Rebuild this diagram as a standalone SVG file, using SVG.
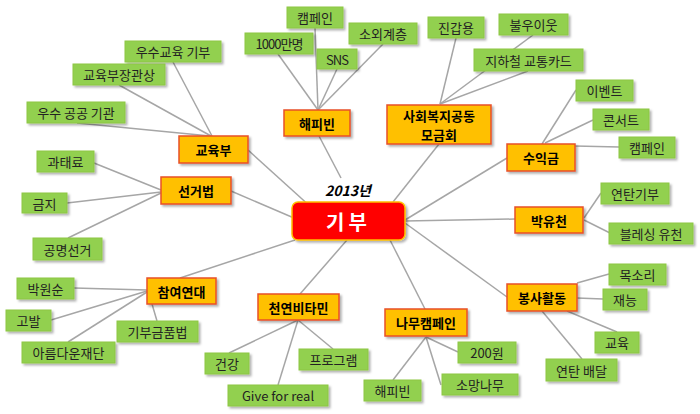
<svg xmlns="http://www.w3.org/2000/svg" width="700" height="414" viewBox="0 0 700 414">
<defs>
<filter id="sh" x="-20%" y="-20%" width="150%" height="160%">
<feDropShadow dx="2" dy="2" stdDeviation="1" flood-color="#000" flood-opacity="0.3"/>
</filter>
</defs>
<style>
text{font-family:"Noto Sans CJK KR","Liberation Sans",sans-serif;text-anchor:middle;dominant-baseline:central}
.leaf rect{fill:#92D050;stroke:#8DC645;stroke-width:1;filter:url(#sh)}
.leaf text{font-size:13px;fill:#222}
.cat rect{fill:#FFC000;stroke:#E8502A;stroke-width:1.5;filter:url(#sh)}
.cat text{font-size:13px;font-weight:bold;fill:#000}
.lines line{stroke:#A6A6A6;stroke-width:1.5}
</style>
<rect width="700" height="414" fill="#fff"/>
<g class="lines" id="connectors">
<line x1="248" y1="150" x2="312" y2="208"/>
<line x1="231" y1="191" x2="294" y2="218"/>
<line x1="319" y1="136" x2="341" y2="178"/>
<line x1="439" y1="144" x2="393" y2="202"/>
<line x1="507" y1="158" x2="405" y2="220"/>
<line x1="405" y1="221" x2="515" y2="219"/>
<line x1="405" y1="223" x2="507" y2="297"/>
<line x1="390" y1="240" x2="425" y2="309"/>
<line x1="347" y1="240" x2="300" y2="294"/>
<line x1="295" y1="240" x2="180" y2="278"/>
<line x1="173" y1="62" x2="212" y2="136"/>
<line x1="119" y1="85" x2="211" y2="136"/>
<line x1="77" y1="123" x2="210" y2="136"/>
<line x1="315" y1="28" x2="318" y2="110"/>
<line x1="278" y1="54" x2="318" y2="110"/>
<line x1="337" y1="69" x2="318" y2="110"/>
<line x1="383" y1="44" x2="318" y2="110"/>
<line x1="456" y1="38" x2="440" y2="104"/>
<line x1="533" y1="35" x2="440" y2="104"/>
<line x1="528" y1="71" x2="440" y2="104"/>
<line x1="576" y1="90" x2="542" y2="144"/>
<line x1="593" y1="120" x2="545" y2="143"/>
<line x1="619" y1="147" x2="575" y2="146"/>
<line x1="601" y1="193" x2="584" y2="218"/>
<line x1="610" y1="233" x2="584" y2="220"/>
<line x1="609" y1="274" x2="577" y2="283"/>
<line x1="603" y1="299" x2="577" y2="298"/>
<line x1="617" y1="332" x2="567" y2="311"/>
<line x1="582" y1="359" x2="542" y2="311"/>
<line x1="458" y1="352" x2="426" y2="337"/>
<line x1="441" y1="385" x2="426" y2="337"/>
<line x1="393" y1="380" x2="426" y2="337"/>
<line x1="229" y1="353" x2="298" y2="320"/>
<line x1="278" y1="385" x2="298" y2="320"/>
<line x1="333" y1="349" x2="298" y2="320"/>
<line x1="74" y1="288" x2="147" y2="290"/>
<line x1="51" y1="320" x2="147" y2="291"/>
<line x1="68" y1="342" x2="147" y2="292"/>
<line x1="157" y1="321" x2="152" y2="304"/>
<line x1="94" y1="163" x2="161" y2="190"/>
<line x1="67" y1="203" x2="161" y2="192"/>
<line x1="68" y1="238" x2="161" y2="193"/>
</g>
<g id="root">
<rect x="292" y="202" width="113" height="38" rx="6" fill="#FF0000" stroke="#FFC000" stroke-width="1.5" filter="url(#sh)"/>
<text x="348.5" y="221" font-size="20" font-weight="bold" fill="#fff" letter-spacing="4">기부</text>
<text x="348" y="190" font-size="14" font-weight="bold" font-style="italic" fill="#000">2013년</text>
</g>
<g class="cat">
<g id="n-edu"><rect x="179" y="136" width="69" height="27"/><text x="213.5" y="149.5">교육부</text></g>
<g id="n-law"><rect x="161" y="177" width="70" height="27"/><text x="196" y="190.5">선거법</text></g>
<g id="n-happy"><rect x="284" y="110" width="66" height="26"/><text x="317" y="123">해피빈</text></g>
<g id="n-welfare"><rect x="387" y="105" width="104" height="39"/><text x="439" y="115" font-size="12.5">사회복지공동</text><text x="439" y="134" font-size="12.5">모금회</text></g>
<g id="n-income"><rect x="507" y="144" width="68" height="27"/><text x="541" y="157.5">수익금</text></g>
<g id="n-park"><rect x="515" y="207" width="68" height="26"/><text x="549" y="220">박유천</text></g>
<g id="n-vol"><rect x="507" y="284" width="70" height="27"/><text x="542" y="297.5">봉사활동</text></g>
<g id="n-tree"><rect x="385" y="309" width="82" height="27"/><text x="426" y="322.5">나무캠페인</text></g>
<g id="n-vita"><rect x="258" y="294" width="81" height="26"/><text x="298.5" y="307">천연비타민</text></g>
<g id="n-pspd"><rect x="147" y="278" width="69" height="26"/><text x="181.5" y="291">참여연대</text></g>
</g>
<g class="leaf">
<g id="l1"><rect x="125" y="41" width="96" height="21"/><text x="173" y="51.5">우수교육 기부</text></g>
<g id="l2"><rect x="73" y="64" width="92" height="21"/><text x="119" y="74.5">교육부장관상</text></g>
<g id="l3"><rect x="27" y="102" width="98" height="21"/><text x="76" y="112.5">우수 공공 기관</text></g>
<g id="l4"><rect x="37" y="151" width="57" height="21"/><text x="65.5" y="161.5">과태료</text></g>
<g id="l5"><rect x="22" y="193" width="45" height="20"/><text x="44.5" y="203">금지</text></g>
<g id="l6"><rect x="33" y="238" width="69" height="22"/><text x="67.5" y="249">공명선거</text></g>
<g id="l7"><rect x="287" y="7" width="56" height="21"/><text x="315" y="17.5">캠페인</text></g>
<g id="l8"><rect x="245" y="33" width="68" height="21"/><text x="279" y="43.5" letter-spacing="-1">1000만명</text></g>
<g id="l9"><rect x="317" y="49" width="40" height="20"/><text x="337" y="59" letter-spacing="-1">SNS</text></g>
<g id="l10"><rect x="349" y="23" width="68" height="21"/><text x="383" y="33.5">소외계층</text></g>
<g id="l11"><rect x="428" y="17" width="56" height="21"/><text x="456" y="27.5">진갑용</text></g>
<g id="l12"><rect x="499" y="14" width="69" height="21"/><text x="533.5" y="24.5">불우이웃</text></g>
<g id="l13"><rect x="474" y="49" width="109" height="22"/><text x="528.5" y="60">지하철 교통카드</text></g>
<g id="l14"><rect x="576" y="80" width="57" height="21"/><text x="604.5" y="90.5">이벤트</text></g>
<g id="l15"><rect x="593" y="109" width="56" height="21"/><text x="621" y="119.5">콘서트</text></g>
<g id="l16"><rect x="619" y="137" width="56" height="21"/><text x="647" y="147.5">캠페인</text></g>
<g id="l17"><rect x="601" y="183" width="68" height="21"/><text x="635" y="193.5">연탄기부</text></g>
<g id="l18"><rect x="609" y="223" width="84" height="21"/><text x="651" y="233.5">블레싱 유천</text></g>
<g id="l19"><rect x="609" y="264" width="57" height="21"/><text x="637.5" y="274.5">목소리</text></g>
<g id="l20"><rect x="603" y="289" width="44" height="21"/><text x="625" y="299.5">재능</text></g>
<g id="l21"><rect x="595" y="332" width="44" height="21"/><text x="617" y="342.5">교육</text></g>
<g id="l22"><rect x="546" y="359" width="71" height="22"/><text x="581.5" y="370">연탄 배달</text></g>
<g id="l23"><rect x="458" y="342" width="58" height="21"/><text x="487" y="352.5">200원</text></g>
<g id="l24"><rect x="442" y="374" width="76" height="21"/><text x="480" y="384.5">소망나무</text></g>
<g id="l25"><rect x="364" y="380" width="57" height="21"/><text x="392.5" y="390.5">해피빈</text></g>
<g id="l26"><rect x="205" y="353" width="44" height="21"/><text x="227" y="363.5">건강</text></g>
<g id="l27"><rect x="228" y="385" width="100" height="21"/><text x="278" y="395.5">Give for real</text></g>
<g id="l28"><rect x="299" y="349" width="69" height="21"/><text x="333.5" y="359.5">프로그램</text></g>
<g id="l29"><rect x="17" y="278" width="57" height="21"/><text x="45.5" y="288.5">박원순</text></g>
<g id="l30"><rect x="6" y="310" width="45" height="21"/><text x="28.5" y="320.5">고발</text></g>
<g id="l31"><rect x="22" y="342" width="93" height="21"/><text x="68.5" y="352.5">아름다운재단</text></g>
<g id="l32"><rect x="117" y="321" width="81" height="21"/><text x="157.5" y="331.5">기부금품법</text></g>
</g>
</svg>
